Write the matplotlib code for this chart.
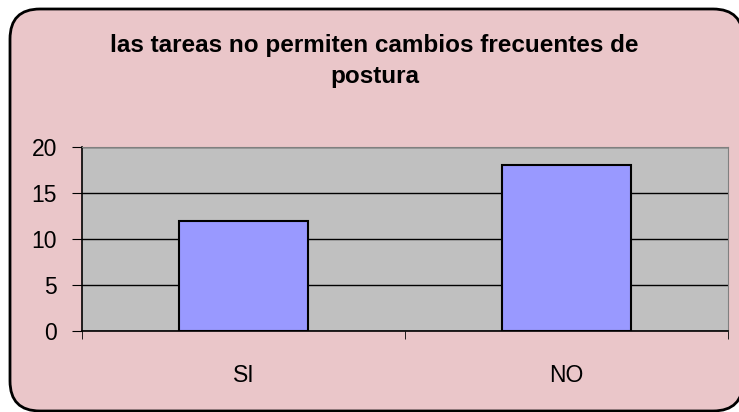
import matplotlib
matplotlib.use('Agg')
import matplotlib.pyplot as plt
from matplotlib.patches import FancyBboxPatch

categories = ["SI", "NO"]
values = [12, 18]
yticks = [0, 5, 10, 15, 20]
title = "las tareas no permiten cambios frecuentes de\npostura"

plt.rcParams['font.family'] = ['Liberation Sans', 'DejaVu Sans']

fig = plt.figure(figsize=(7.39, 4.12), dpi=100)
fig.patch.set_facecolor('white')

# rounded pink chart area (runs a little past the right/bottom edge), behind the axes
bg = FancyBboxPatch((0.10, 0.01), 7.33, 4.02,
                    boxstyle="round,pad=0,rounding_size=0.3",
                    transform=fig.dpi_scale_trans, facecolor='#EAC6C9',
                    edgecolor='black', linewidth=2, zorder=-5)
fig.patches.append(bg)

ax = fig.add_axes([82 / 739, 81 / 412, 646 / 739, 184 / 412])
ax.set_zorder(2)
ax.set_facecolor('#C0C0C0')
x = range(len(categories))
ax.bar(x, values, width=0.4, color='#9999FF', edgecolor='black', linewidth=1.5, zorder=3)

ax.set_xlim(-0.5, len(categories) - 0.5)
ax.set_ylim(0, 20)
ax.set_yticks(yticks)
ax.yaxis.grid(True, color='black', linewidth=1, zorder=1)
ax.set_axisbelow(True)
ax.tick_params(axis='y', length=7, pad=11, labelsize=16.5, color='black')

ax.set_xticks(list(x))
ax.set_xticklabels(categories)
ax.tick_params(axis='x', which='major', length=0, pad=24, labelsize=16.5)
ax.set_xticks([-0.5, 0.5, 1.5], minor=True)
ax.tick_params(axis='x', which='minor', length=6, color='black')

for side in ['top', 'right']:
    ax.spines[side].set_color('#808080')
for side in ['left', 'bottom']:
    ax.spines[side].set_color('black')
    ax.spines[side].set_linewidth(1.2)

fig.text(0.507, 0.852, title, ha='center', va='center', fontsize=17.5,
         fontweight='bold', linespacing=1.4)

fig.savefig('out.png', dpi=100)
